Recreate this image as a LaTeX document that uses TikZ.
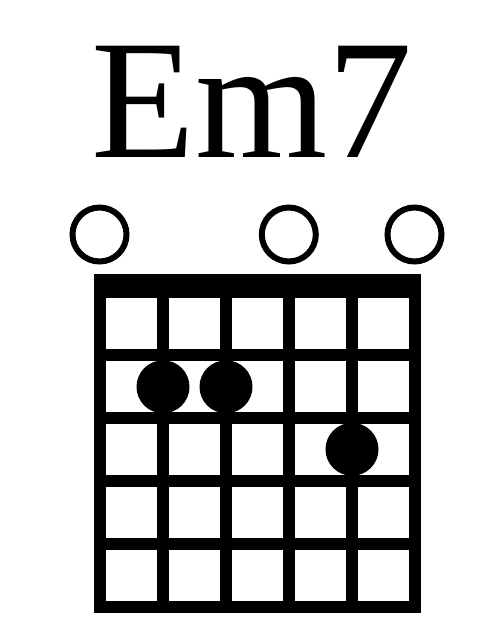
\documentclass[tikz,border=0pt]{standalone}
\usepackage{fontspec}
\setmainfont{Liberation Serif}
\newfontfamily\titlefont{Liberation Serif}
\begin{document}
\begin{tikzpicture}[x=1pt,y=-1pt,
  gridline/.style={line width=11.7pt},
  opencirc/.style={circle,draw=black,line width=6pt,minimum size=54pt,inner sep=0pt},
  fingerdot/.style={circle,fill=black,minimum size=53pt,inner sep=0pt}]
\useasboundingbox[fill=white] (0,0) rectangle (500,625);
% title
\node[anchor=base,inner sep=0pt,font=\titlefont\fontsize{170pt}{170pt}\selectfont] (title) at (251.7,157.3) {Em7};
% nut
\fill (94.15,274) rectangle (420.85,297.65);
% frame
\draw[gridline,line join=miter] (100,291.8) rectangle (415,606.8);
% strings
\foreach \i in {1,...,4} {
  \draw[gridline] (100+63*\i,291.8) -- (100+63*\i,606.8);
}
% frets
\foreach \j in {1,...,4} {
  \draw[gridline] (100,291.8+63*\j) -- (415,291.8+63*\j);
}
% open strings
\node[opencirc] (o1) at (99.5,234.5) {};
\node[opencirc] (o4) at (288.8,234.5) {};
\node[opencirc] (o6) at (414.5,234.5) {};
% finger dots
\node[fingerdot] (d1) at (163,386.8) {};
\node[fingerdot] (d2) at (226,386.8) {};
\node[fingerdot] (d3) at (352,449.3) {};
\end{tikzpicture}
\end{document}
